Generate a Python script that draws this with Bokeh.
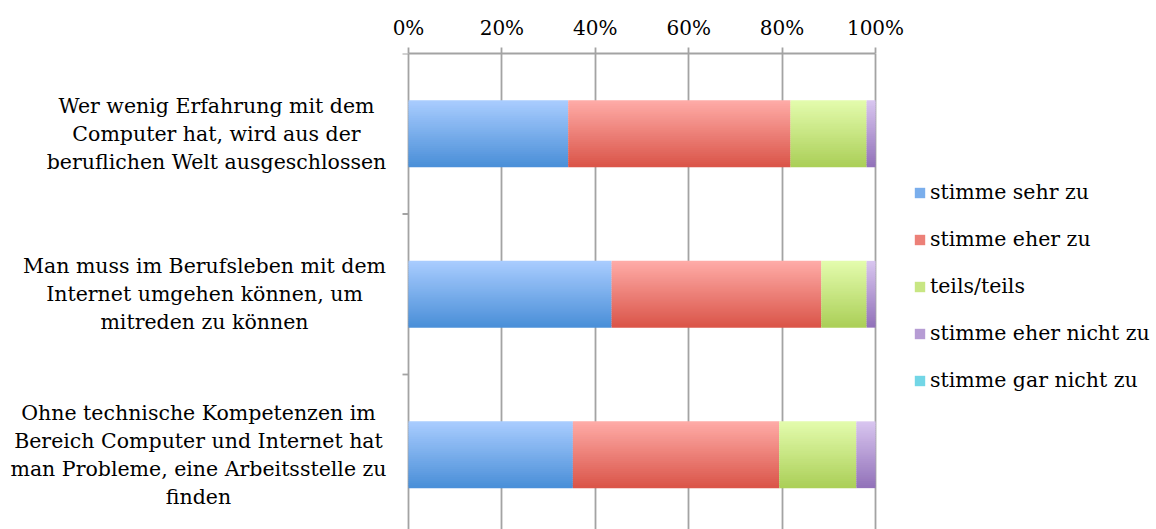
from bokeh.plotting import figure
from bokeh.models import (Range1d, FixedTicker, Label, Legend, LegendItem,
                          ColumnDataSource)
from bokeh.embed import file_html
from bokeh.resources import INLINE

# ---------------- data ----------------
categories = [
    "Wer wenig Erfahrung mit dem\nComputer hat, wird aus der\nberuflichen Welt ausgeschlossen",
    "Man muss im Berufsleben mit dem\nInternet umgehen können, um\nmitreden zu können",
    "Ohne technische Kompetenzen im\nBereich Computer und Internet hat\nman Probleme, eine Arbeitsstelle zu\nfinden",
]
series_names = ["stimme sehr zu", "stimme eher zu", "teils/teils",
                "stimme eher nicht zu", "stimme gar nicht zu"]
sehr_zu = [34.2, 43.5, 35.2]
eher_zu = [47.6, 44.9, 44.2]
teils = [16.3, 9.7, 16.5]
eher_nicht = [1.9, 1.9, 4.1]
gar_nicht = [0.0, 0.0, 0.0]
tick_values = [0, 20, 40, 60, 80, 100]
tick_labels = ["0%", "20%", "40%", "60%", "80%", "100%"]

# ---------------- styling ----------------
FONT = "DejaVu Serif"
FS = "20.5px"
GRID = "#a3a3a3"
top_cols = ["#aacdff", "#ffaca8", "#e4fcae", "#d9c6f0", "#a6ecf7"]
bot_cols = ["#4a8fd8", "#da5549", "#abcf58", "#9272b9", "#3fbfd6"]
series = [sehr_zu, eher_zu, teils, eher_nicht, gar_nicht]

W, H = 1156, 529
X0, X100, FT = 408, 875, 53       # pixel positions of 0 %, 100 %, frame top
CAT_PX = 160.5                    # pixels per category
ppu = (X100 - X0) / 100.0
n = len(categories)

p = figure(width=W, height=H, output_backend="svg", toolbar_location=None,
           x_range=Range1d(-X0 / ppu, (W - X0) / ppu),
           y_range=Range1d(n - (H - FT) / CAT_PX, n),
           x_axis_location="above", y_axis_location=None,
           min_border_left=0, min_border_right=0,
           min_border_top=FT, min_border_bottom=0)
p.outline_line_color = None
p.background_fill_color = "white"
p.border_fill_color = "white"

ycent = [n - i - 0.5 for i in range(n)]
BH = 66 / CAT_PX
NS = 33


def mix(c1, c2, t):
    a = [int(c1[k:k + 2], 16) for k in (1, 3, 5)]
    b = [int(c2[k:k + 2], 16) for k in (1, 3, 5)]
    return "#%02x%02x%02x" % tuple(round(a[j] + (b[j] - a[j]) * t) for j in range(3))


# vertical grid lines (incl. 0 % line acting as the category axis)
p.xgrid.ticker = FixedTicker(ticks=tick_values)
p.xgrid.grid_line_color = GRID
p.xgrid.grid_line_width = 1.8
p.ygrid.grid_line_color = None

# category axis tick marks (between categories), 6 px long left of 0 %
bounds = list(range(n + 1))
p.segment(x0=[-6 / ppu] * len(bounds), y0=bounds, x1=[0] * len(bounds), y1=bounds,
          line_color=GRID, line_width=1.8)

legend_items = []
cum = [0.0] * n
for s_idx, vals in enumerate(series):
    left = cum[:]
    right = [cum[i] + vals[i] for i in range(n)]
    cum = right
    for k in range(NS):
        t = (k + 0.5) / NS
        ys = [yc + BH / 2 - (k + 0.5) * BH / NS for yc in ycent]
        src = ColumnDataSource(dict(y=ys, left=left, right=right))
        p.hbar(y="y", left="left", right="right", height=BH / NS * 1.4,
               source=src, fill_color=mix(top_cols[s_idx], bot_cols[s_idx], t),
               line_color=None)
    dummy = p.hbar(y=[-10], left=[0], right=[1], height=BH,
                   fill_color=mix(top_cols[s_idx], bot_cols[s_idx], 0.5),
                   line_color=None)
    legend_items.append(LegendItem(label=series_names[s_idx], renderers=[dummy]))

# top axis
xa = p.xaxis[0]
xa.bounds = (0, 100)
xa.ticker = FixedTicker(ticks=tick_values)
xa.major_label_overrides = {v: l for v, l in zip(tick_values, tick_labels)}
xa.axis_line_color = GRID
xa.axis_line_width = 1.8
xa.major_tick_line_color = GRID
xa.major_tick_line_width = 1.8
xa.major_tick_out = 6
xa.major_tick_in = 0
xa.minor_tick_line_color = None
xa.major_label_text_font = FONT
xa.major_label_text_font_size = "20px"
xa.major_label_text_color = "black"
xa.major_label_standoff = 8

# category labels
label_centers = [216, 204, 198]
for i, txt in enumerate(categories):
    p.add_layout(Label(x=(label_centers[i] - X0) / ppu, y=ycent[i], text=txt,
                       text_align="center", text_baseline="middle",
                       text_font=FONT, text_font_size=FS, text_color="black",
                       text_line_height=1.17))

legend = Legend(items=legend_items, location=(913, 137),
                glyph_width=13, glyph_height=13, label_height=20,
                spacing=23, padding=0, margin=0, label_standoff=4,
                label_text_font=FONT, label_text_font_size=FS,
                label_text_color="black", border_line_color=None,
                background_fill_alpha=0)
p.add_layout(legend)

open("out.html", "w").write(file_html(p, INLINE))
